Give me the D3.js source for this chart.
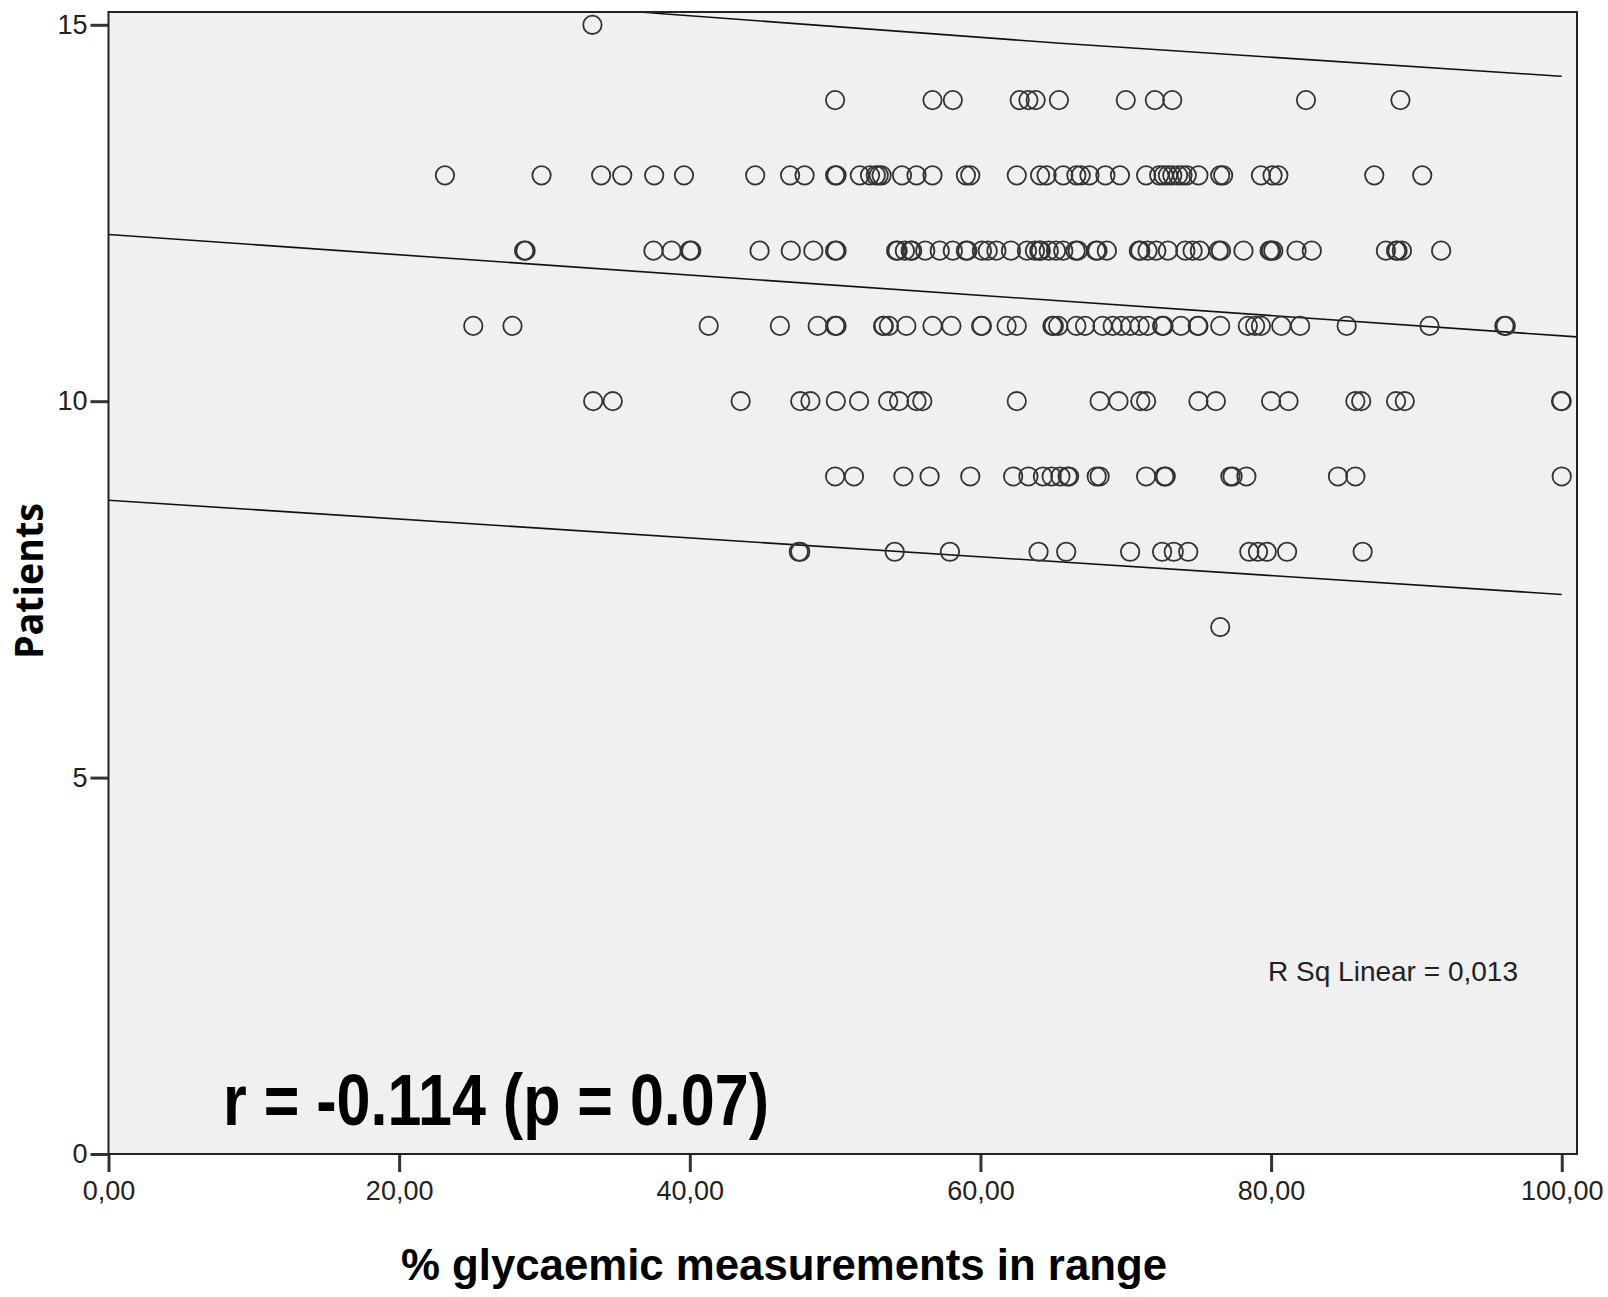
<!DOCTYPE html>
<html>
<head>
<meta charset="utf-8">
<script src="https://cdn.jsdelivr.net/npm/d3@7"></script>
<style>
  body { margin: 0; background: #fff; }
  .tick text { font-family: "Liberation Sans", Arial, sans-serif; font-size: 27px; fill: #222; }
</style>
</head>
<body>
<div class="chart"></div>
<script>
// % glycaemic measurements in range, one array per "Patients" value
var pct15 = [33.3];
var pct14 = [50.0, 56.7, 58.1, 62.7, 63.3, 63.8, 65.4, 70.0, 72.0, 73.2, 82.4, 88.9];
var pct13 = [23.15, 29.8, 33.9, 35.35, 37.55, 39.6, 44.5, 46.9, 47.9, 50.0, 50.1, 51.7, 52.4, 52.8, 53.0, 53.2,
  54.6, 55.6, 56.7, 59.0, 59.3, 62.5, 64.1, 64.55, 65.7, 66.6, 66.9, 67.5, 68.6, 69.6, 71.4, 72.3, 72.6,
  72.9, 73.2, 73.6, 73.9, 74.2, 75.0, 76.5, 76.7, 79.3, 80.1, 80.5, 87.1, 90.4];
var pct12 = [28.6, 28.7, 37.5, 38.75, 40.0, 40.1, 44.8, 46.95, 48.5, 50.0, 50.1, 54.2, 54.3, 54.8, 55.2, 55.3,
  56.2, 57.2, 58.1, 59.0, 59.1, 60.1, 60.5, 61.1, 62.1, 63.2, 63.75, 64.05, 64.15, 64.7, 65.2, 65.7,
  66.55, 66.7, 67.95, 68.05, 68.7, 70.9, 71.0, 71.5, 72.1, 72.9, 74.1, 74.6, 75.1, 76.4, 76.55, 78.1,
  79.9, 80.0, 80.15, 81.75, 82.8, 87.9, 88.6, 88.7, 89.0, 91.7];
var pct11 = [25.1, 27.8, 41.3, 46.2, 48.8, 50.0, 50.1, 53.3, 53.35, 53.7, 54.9, 56.7, 58.0, 60.05, 60.1, 61.8,
  62.5, 64.95, 65.05, 65.35, 66.6, 67.2, 68.4, 69.1, 69.7, 70.3, 70.95, 71.5, 72.5, 72.6, 73.8, 74.95,
  75.0, 76.5, 78.4, 78.9, 79.3, 80.7, 82.0, 85.2, 90.9, 96.05, 96.15];
var pct10 = [33.35, 34.7, 43.5, 47.6, 48.3, 50.05, 51.65, 53.65, 54.4, 55.6, 56.0, 62.5, 68.2, 69.5, 71.0,
  71.4, 75.0, 76.2, 80.0, 81.2, 85.8, 86.2, 88.6, 89.2, 99.95, 100.0];
var pct9 = [50.0, 51.3, 54.7, 56.5, 59.3, 62.25, 63.3, 64.3, 64.9, 65.5, 66.0, 66.1, 68.0, 68.2, 71.4, 72.65,
  72.75, 77.2, 77.35, 78.3, 84.6, 85.8, 100.0];
var pct8 = [47.5, 47.6, 54.1, 57.9, 64.0, 65.9, 70.3, 72.5, 73.3, 74.3, 78.5, 79.1, 79.7, 81.1, 86.3];
var pct7 = [76.5];

var patientRows = [[15, pct15], [14, pct14], [13, pct13], [12, pct12], [11, pct11],
  [10, pct10], [9, pct9], [8, pct8], [7, pct7]];

// fit line and individual prediction limits
var fitX = [0, 101.05];
var fitY = [12.214, 10.854];
var upperX = [0, 37.9, 65.5, 100];
var upperY = [15.74, 15.15, 14.754, 14.316];
var lowerX = [0, 100];
var lowerY = [8.685, 7.433];

var xTicks = [0, 20, 40, 60, 80, 100];
var yTicks = [0, 5, 10, 15];

var svgWidth = 1608;
var svgHeight = 1297;

var plot = { left: 108.5, right: 1577, top: 12, bottom: 1154 };

var svg = d3.select(".chart")
  .append("svg")
  .attr("width", svgWidth)
  .attr("height", svgHeight);

var xScale = d3.scaleLinear()
  .domain([0, 101.05])
  .range([plot.left, plot.right]);

var yScale = d3.scaleLinear()
  .domain([0, 15.17])
  .range([plot.bottom, plot.top]);

// plot background
svg.append("rect")
  .attr("x", plot.left)
  .attr("y", plot.top)
  .attr("width", plot.right - plot.left)
  .attr("height", plot.bottom - plot.top)
  .attr("fill", "#f0f0f0");

svg.append("clipPath")
  .attr("id", "plotClip")
  .append("rect")
  .attr("x", plot.left)
  .attr("y", plot.top)
  .attr("width", plot.right - plot.left)
  .attr("height", plot.bottom - plot.top);

var points = [];
patientRows.forEach(function(row) {
  row[1].forEach(function(p) {
    points.push({ pct: p, patients: row[0] });
  });
});

var line = d3.line()
  .x(d => xScale(d[0]))
  .y(d => yScale(d[1]))
  .curve(d3.curveMonotoneX);

var lineGroup = svg.append("g").attr("clip-path", "url(#plotClip)");

[[fitX, fitY], [upperX, upperY], [lowerX, lowerY]].forEach(function(l) {
  lineGroup.append("path")
    .datum(d3.zip(l[0], l[1]))
    .attr("d", line)
    .attr("fill", "none")
    .attr("stroke", "#111")
    .attr("stroke-width", 1.6);
});

// Create circles
svg.append("g")
  .selectAll("circle")
  .data(points)
  .enter()
  .append("circle")
  .attr("cx", d => xScale(d.pct))
  .attr("cy", d => yScale(d.patients))
  .attr("r", 9.2)
  .attr("fill", "none")
  .attr("stroke", "#333")
  .attr("stroke-width", 1.8);

// axes
var bottomAxis = d3.axisBottom(xScale)
  .tickValues(xTicks)
  .tickSize(18)
  .tickPadding(9)
  .tickFormat(d => d3.format(".2f")(d).replace(".", ","));

var leftAxis = d3.axisLeft(yScale)
  .tickValues(yTicks)
  .tickSize(18)
  .tickPadding(3);

var xAxisG = svg.append("g")
  .attr("transform", `translate(0, ${plot.bottom})`)
  .call(bottomAxis);

var yAxisG = svg.append("g")
  .attr("transform", `translate(${plot.left}, 0)`)
  .call(leftAxis);

[xAxisG, yAxisG].forEach(function(g) {
  g.select(".domain").remove();
  g.selectAll(".tick line").attr("stroke", "#333").attr("stroke-width", 3);
});

// frame
svg.append("rect")
  .attr("x", plot.left)
  .attr("y", plot.top)
  .attr("width", plot.right - plot.left)
  .attr("height", plot.bottom - plot.top)
  .attr("fill", "none")
  .attr("stroke", "#222")
  .attr("stroke-width", 2);

// texts
svg.append("text")
  .attr("x", 1268)
  .attr("y", 981)
  .attr("font-family", "Liberation Sans, Arial, sans-serif")
  .attr("font-size", 28)
  .attr("fill", "#222")
  .attr("textLength", 250)
  .attr("lengthAdjust", "spacingAndGlyphs")
  .text("R Sq Linear = 0,013");

svg.append("text")
  .attr("x", 223)
  .attr("y", 1125)
  .attr("font-family", "Liberation Sans Narrow, Arial Narrow, Liberation Sans, sans-serif")
  .attr("font-weight", "bold")
  .attr("font-size", 73)
  .attr("fill", "#000")
  .attr("textLength", 546)
  .attr("lengthAdjust", "spacingAndGlyphs")
  .text("r = -0.114 (p = 0.07)");

svg.append("text")
  .attr("x", 401)
  .attr("y", 1280)
  .attr("font-family", "Liberation Sans Narrow, Arial Narrow, Liberation Sans, sans-serif")
  .attr("font-weight", "bold")
  .attr("font-size", 45)
  .attr("fill", "#000")
  .attr("textLength", 766)
  .attr("lengthAdjust", "spacingAndGlyphs")
  .text("% glycaemic measurements in range");

svg.append("text")
  .attr("transform", "translate(43, 581) rotate(-90)")
  .attr("text-anchor", "middle")
  .attr("font-family", "Open Sans, DejaVu Sans, sans-serif")
  .attr("font-weight", "bold")
  .attr("font-size", 40)
  .attr("fill", "#000")
  .attr("textLength", 156)
  .attr("lengthAdjust", "spacingAndGlyphs")
  .text("Patients");
</script>
</body>
</html>
